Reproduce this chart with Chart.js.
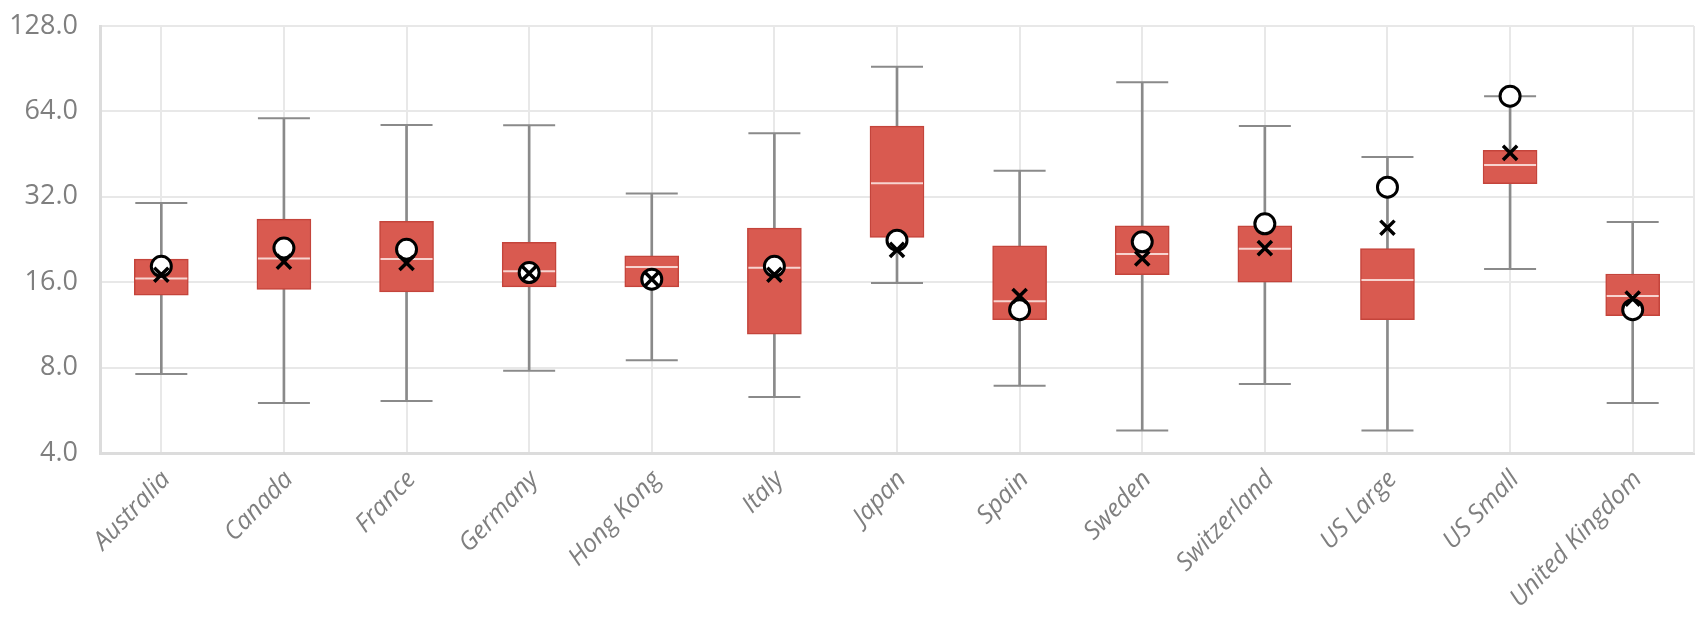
<!DOCTYPE html>
<html>
<head>
<meta charset="utf-8">
<script src="https://cdn.jsdelivr.net/npm/chart.js@4/dist/chart.umd.min.js"></script>
<style>
  html, body { margin: 0; padding: 0; background: #fff; }
  #wrap { width: 1700px; height: 617px; }
</style>
</head>
<body>
<div id="wrap"><canvas id="boxChart" width="1700" height="617"></canvas></div>
<script>
const categories = ["Australia", "Canada", "France", "Germany", "Hong Kong", "Italy", "Japan",
  "Spain", "Sweden", "Switzerland", "US Large", "US Small", "United Kingdom"];

// box plot values (log2 axis)
const whiskerLow  = [7.6, 6.0, 6.1, 7.8, 8.5, 6.3, 15.9, 6.9, 4.8, 7.0, 4.8, 17.8, 6.0];
const q1          = [14.4, 15.1, 14.8, 15.4, 15.4, 10.5, 23.0, 11.8, 17.0, 16.0, 11.8, 35.6, 12.2];
const median      = [16.5, 19.4, 19.3, 17.5, 18.1, 18.0, 35.7, 13.7, 20.1, 21.0, 16.3, 41.4, 14.3];
const q3          = [19.3, 26.7, 26.2, 22.1, 19.8, 24.8, 56.8, 21.5, 25.3, 25.3, 21.0, 46.7, 17.1];
const whiskerHigh = [30.4, 60.5, 57.3, 57.2, 32.9, 53.6, 92.0, 39.5, 81.1, 56.8, 44.2, 72.4, 26.1];
const mean        = [17.0, 18.9, 18.7, 17.2, 16.4, 17.0, 20.8, 14.3, 19.4, 21.1, 24.9, 45.7, 14.0];
const current     = [18.2, 21.1, 20.9, 17.3, 16.4, 18.2, 22.5, 12.8, 22.2, 25.7, 34.6, 72.4, 12.8];

const yTicks = [4, 8, 16, 32, 64, 128];

const GREY = "#8a8a8a";
const GRID = "#e8e8e8";

Chart.defaults.font.family = "'Open Sans', Lato, sans-serif";

// right edge of the frame
const frameLine = {
  id: "frameLine",
  beforeDatasetsDraw(chart) {
    const { ctx, chartArea: a } = chart;
    ctx.save();
    ctx.strokeStyle = GRID;
    ctx.lineWidth = 2;
    ctx.beginPath();
    ctx.moveTo(a.right, a.top);
    ctx.lineTo(a.right, a.bottom);
    ctx.stroke();
    ctx.restore();
  }
};

function pointSet(data, extra) {
  return Object.assign({
    type: "line",
    data: data,
    showLine: false,
    pointBorderColor: "#000",
    pointBackgroundColor: "#fff"
  }, extra);
}

new Chart(document.getElementById("boxChart"), {
  type: "bar",
  data: {
    labels: categories,
    datasets: [
      {
        // whisker stem
        data: whiskerLow.map((v, i) => [v, whiskerHigh[i]]),
        backgroundColor: GREY,
        borderWidth: 0,
        barThickness: 2,
        grouped: false,
        order: 6
      },
      {
        // box
        data: q1.map((v, i) => [v, q3[i]]),
        backgroundColor: "#d95a50",
        borderColor: "#c4443b",
        borderWidth: 1.5,
        borderSkipped: false,
        barThickness: 54,
        grouped: false,
        order: 5
      },
      pointSet(whiskerLow, { pointStyle: "line", pointRadius: 26, pointBorderWidth: 2, pointBorderColor: GREY, order: 4 }),
      pointSet(whiskerHigh, { pointStyle: "line", pointRadius: 26, pointBorderWidth: 2, pointBorderColor: GREY, order: 4 }),
      pointSet(median, { pointStyle: "line", pointRadius: 26, pointBorderWidth: 2, pointBorderColor: "#f7d4d0", order: 3 }),
      pointSet(current, { pointStyle: "circle", pointRadius: 10, pointBorderWidth: 3, order: 2 }),
      pointSet(mean, { pointStyle: "crossRot", pointRadius: 10, pointBorderWidth: 3.5, order: 1 })
    ]
  },
  options: {
    responsive: false,
    animation: false,
    events: [],
    layout: { autoPadding: false, padding: { top: 26, right: 6, left: 0, bottom: 0 } },
    plugins: {
      legend: { display: false },
      tooltip: { enabled: false }
    },
    scales: {
      x: {
        offset: true,
        grid: { offset: false, color: GRID, lineWidth: 2, drawTicks: false },
        border: { color: "#dcdcdc", width: 3 },
        ticks: {
          color: "#7f7f7f",
          font: { size: 25, style: "italic" },
          minRotation: 46,
          maxRotation: 46,
          autoSkip: false,
          labelOffset: 5,
          padding: 12
        },
        afterFit(scale) {
          scale.height = 164;
          scale.paddingLeft = 0;
          scale.paddingRight = 0;
        }
      },
      y: {
        type: "logarithmic",
        min: 4,
        max: 128,
        grid: { color: GRID, lineWidth: 2, drawTicks: false },
        border: { color: "#dcdcdc", width: 3 },
        afterBuildTicks(scale) {
          scale.ticks = yTicks.map(v => ({ value: v }));
        },
        ticks: {
          color: "#7f7f7f",
          font: { size: 27 },
          padding: 22,
          callback: v => Number(v).toFixed(1)
        },
        afterFit(scale) {
          scale.width = 100;
          scale.paddingTop = 0;
          scale.paddingBottom = 0;
        }
      }
    }
  },
  plugins: [frameLine]
});
</script>
</body>
</html>
